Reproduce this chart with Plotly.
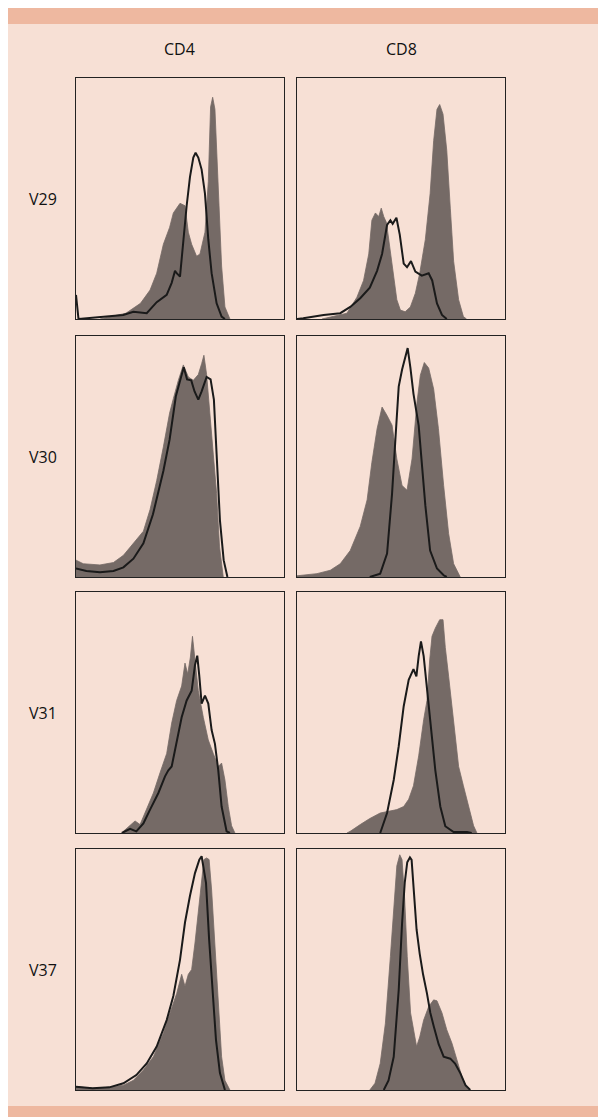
import plotly.graph_objects as go

# ---- data (x: fluorescence position 0-100, y: normalised count 0-100) ----
row_labels = ["V29", "V30", "V31", "V37"]
col_labels = ["CD4", "CD8"]

# V29 / CD4
v29_cd4_fill_x = [11.5, 24, 31, 35.6, 38.8, 42, 45, 46.8, 50, 52.4, 54, 55.6, 58, 59.6, 62, 63.6, 64.7, 65.7, 66.8, 68.4, 70, 71.6, 74]
v29_cd4_fill_y = [0, 2.4, 6.5, 12, 19, 31, 38, 44, 48, 47, 36, 31, 26, 27, 36, 57, 88, 92, 87, 57, 22, 5, 0]
v29_cd4_line_x = [0, 0.6, 1.2, 22.7, 27.6, 34, 38.8, 43.6, 46, 47.6, 48.4, 50, 51.6, 53.2, 54.8, 56.4, 57.5, 58.8, 60.4, 62, 63.6, 65.2, 67.6, 70, 71.6]
v29_cd4_line_y = [10, 3, 0, 1.7, 3, 2.4, 7, 10, 15, 20, 19, 17.6, 33, 47, 59, 67, 69, 67, 62, 52, 33, 19, 6.5, 1, 0]

# V29 / CD8
v29_cd8_fill_x = [12, 17.6, 24, 28.8, 32, 34.5, 36, 37.7, 39.3, 40.5, 41.7, 43, 44.9, 46.5, 48, 49.7, 52, 54.5, 56.9, 59, 61.7, 64, 65.7, 67.3, 68.6, 70.2, 72, 73.7, 75.3, 77.7, 80, 81.5]
v29_cd8_fill_y = [0, 1, 2.4, 9, 16, 27, 41, 44, 42.5, 46, 42.5, 40, 27, 17.6, 8, 3.7, 3, 5, 10.7, 19, 33, 52, 74, 87, 89, 85, 70, 46, 24, 8, 1, 0]
v29_cd8_line_x = [0, 3, 12.8, 20.8, 25.6, 30.4, 35, 38.5, 40.9, 43.3, 44.9, 46, 47.8, 49.4, 51.3, 52.9, 54.8, 56.9, 60, 63.3, 65, 67.3, 69.7, 72]
v29_cd8_line_y = [0, 0.3, 1.7, 2.4, 5, 8.6, 13, 20, 27, 39, 41, 39.5, 42, 35, 23, 21.5, 24, 19.7, 18, 19, 16, 6.5, 1.7, 0]

# V30 / CD4
v30_cd4_fill_x = [0, 3.5, 11.5, 18, 22.8, 27.6, 32.4, 35.6, 38.8, 42, 45, 46.8, 49.2, 51.6, 54, 56.4, 58.8, 60.4, 61.5, 62.8, 64.4, 66, 67.6, 69, 70.8]
v30_cd4_fill_y = [7, 5.5, 5, 6, 9, 14, 19, 28, 40, 54, 68, 74, 81.6, 88, 83, 81.6, 84, 88.5, 92, 84, 69, 51, 34.6, 12.5, 0]
v30_cd4_line_x = [0, 5, 11.5, 18, 22.8, 27.6, 32.4, 37, 42, 45, 48, 50.6, 51.8, 53.4, 55.4, 57, 58.8, 60.4, 62.8, 64.7, 66.3, 67.6, 69.2, 71, 72.8]
v30_cd4_line_y = [3.5, 2.5, 2, 2.5, 4, 7.6, 14, 26, 44, 57, 75, 83, 87, 82, 81.6, 77, 73.6, 77, 83, 82, 73.6, 51, 23.5, 7, 0]

# V30 / CD8
v30_cd8_fill_x = [0, 9.6, 16, 20.8, 25.6, 30.4, 33.7, 36, 38.5, 40.9, 43.3, 45.7, 48, 50.5, 52.9, 55.3, 57.7, 59.3, 61.2, 63.3, 65.7, 68, 70.5, 72.9, 75.3, 78.5]
v30_cd8_fill_y = [0.5, 1.4, 2.8, 5.5, 11, 21, 32, 47.6, 61.5, 70.5, 67, 63, 49, 38, 36, 49, 72.6, 83.7, 89, 86.7, 78, 61.5, 38, 18, 5.5, 0]
v30_cd8_line_x = [35, 40, 43.3, 45.7, 47.3, 48.9, 50.5, 52.1, 53.2, 54.5, 56, 58.5, 60, 61.7, 64, 67.3, 70.5, 72]
v30_cd8_line_y = [0, 1.4, 9.7, 34.6, 57, 79, 86, 91, 95, 87, 76, 62.8, 47.6, 29.7, 11, 3.5, 0.7, 0]

# V31 / CD4
v31_cd4_fill_x = [22.8, 26, 28.4, 30.8, 34, 37.2, 40.4, 43.6, 46, 48.4, 50.8, 52.4, 53.7, 55, 56, 57.2, 58.8, 61.2, 63.6, 66, 68.4, 70, 71.6, 73.2, 74.8, 76.4]
v31_cd4_fill_y = [0.7, 3, 5, 3.5, 9.7, 16.6, 25, 33, 45.6, 55, 61, 70.5, 66, 73, 81.6, 73, 59, 48, 38.6, 33, 27.6, 29, 22, 11, 3, 0]
v31_cd4_line_x = [22, 26, 29, 32.4, 35.6, 39.6, 42.8, 44.4, 46, 48.4, 50.8, 53.2, 55.6, 57.2, 58.3, 59.3, 60.4, 62, 63.6, 65.2, 66.8, 68.4, 70, 72.4, 74]
v31_cd4_line_y = [0, 1.7, 0.7, 4, 9.7, 16.6, 23.5, 26, 27.6, 38.6, 48, 55, 59, 69.6, 73.6, 65, 53.7, 57, 53.7, 42.7, 37, 26, 11, 0.7, 0]

# V31 / CD8
v31_cd8_fill_x = [24, 25.6, 30.4, 35, 40, 44.9, 48, 51.3, 53.7, 56, 58.5, 60.9, 62.5, 63.8, 64.9, 66.5, 68.6, 70.2, 71.3, 72.9, 75.3, 77.7, 80, 82.5, 84.9, 86.5]
v31_cd8_fill_y = [0, 0.7, 3.5, 6, 8.3, 9, 9.7, 11, 14, 19.6, 32, 47, 55, 71.8, 81.6, 85, 88.5, 88.5, 77, 65, 45.6, 27.6, 19.6, 11, 3, 0]
v31_cd8_line_x = [40, 43.3, 46.5, 48.9, 51.3, 53.7, 56, 57.4, 58.5, 59.6, 60.9, 62.5, 64.4, 66.5, 68.9, 71.3, 75.3, 81.7, 84]
v31_cd8_line_y = [0, 8.3, 22, 36, 52.6, 63.6, 68, 65, 73.4, 79.5, 73.4, 59.5, 41.5, 26, 11, 2.8, 0.4, 0.4, 0]

# V37 / CD4
v37_cd4_fill_x = [0, 8, 16, 22.8, 27.6, 32.4, 37.2, 42, 45.2, 48.4, 50.8, 52.4, 54, 55.6, 57.2, 58.8, 60.4, 61.5, 62.8, 64, 65.2, 66.8, 68.4, 70, 71.6, 74]
v37_cd4_fill_y = [1.4, 0.7, 1.1, 2, 4, 8.3, 13.8, 23.5, 32, 40, 48, 43, 48, 50, 61, 73.4, 84.5, 95.6, 96.3, 95.6, 83, 59.6, 32, 13.8, 4, 0]
v37_cd4_line_x = [0, 8, 16, 22.8, 29, 34, 38.8, 43.6, 46.8, 50, 52.4, 54.8, 57.2, 59.3, 60.4, 61.2, 62.5, 64, 65.7, 67.3, 69.2, 71.6]
v37_cd4_line_y = [1.4, 0.7, 1.1, 2.8, 6.2, 11, 18, 29, 39, 54, 69.5, 80.6, 90, 95.6, 97, 93, 86, 62.5, 40, 20.8, 7, 0]

# V37 / CD8
v37_cd8_fill_x = [35, 37.5, 40, 42.5, 44.9, 46.5, 48, 49.4, 50.5, 51.8, 53, 54.6, 56.2, 57.5, 59, 60.9, 63.3, 65.7, 67.3, 69.7, 72, 74.5, 76.9, 79.3, 81.7, 83]
v37_cd8_fill_y = [0, 2.8, 11, 27.7, 55.4, 76, 93, 97.6, 95.6, 78.7, 55.4, 32, 23.5, 18, 22, 29, 34.6, 37.4, 37, 32, 25, 19.4, 12.5, 5.5, 0.7, 0]
v37_cd8_line_x = [41.7, 44, 46.5, 48.9, 50.5, 51.8, 53, 54.3, 55.1, 56.2, 57.5, 59, 60.6, 62.5, 64.1, 65.7, 68.1, 70.5, 73.7, 76, 78.5, 81, 83.3]
v37_cd8_line_y = [0, 4, 13.8, 41.5, 69, 86, 94.5, 96.5, 95.5, 80.6, 66.5, 56.5, 48, 40, 32, 26.6, 19, 13.8, 13, 11, 7, 2, 0]

panels = [
    [(v29_cd4_fill_x, v29_cd4_fill_y, v29_cd4_line_x, v29_cd4_line_y),
     (v29_cd8_fill_x, v29_cd8_fill_y, v29_cd8_line_x, v29_cd8_line_y)],
    [(v30_cd4_fill_x, v30_cd4_fill_y, v30_cd4_line_x, v30_cd4_line_y),
     (v30_cd8_fill_x, v30_cd8_fill_y, v30_cd8_line_x, v30_cd8_line_y)],
    [(v31_cd4_fill_x, v31_cd4_fill_y, v31_cd4_line_x, v31_cd4_line_y),
     (v31_cd8_fill_x, v31_cd8_fill_y, v31_cd8_line_x, v31_cd8_line_y)],
    [(v37_cd4_fill_x, v37_cd4_fill_y, v37_cd4_line_x, v37_cd4_line_y),
     (v37_cd8_fill_x, v37_cd8_fill_y, v37_cd8_line_x, v37_cd8_line_y)],
]

# ---- layout geometry (figure pixels; the page adds an 8px body margin) ----
W, H = 598, 1109
BG = "#F7E0D5"
BAND = "#EEB8A0"
FILL = "#756A66"
FONT = "Open Sans, Noto Sans, sans-serif"

col_px = [(68, 276), (289, 497)]
row_px = [(70, 311), (328, 569), (584, 825), (841, 1082)]

fig = go.Figure()
layout_axes = {}
k = 0
for r in range(4):
    for c in range(2):
        k += 1
        fx, fy, lx, ly = panels[r][c]
        xa = "x" if k == 1 else f"x{k}"
        ya = "y" if k == 1 else f"y{k}"
        fig.add_trace(go.Scatter(x=fx, y=fy, mode="lines", fill="tozeroy",
                                 fillcolor=FILL, line=dict(width=0.8, color=FILL),
                                 xaxis=xa, yaxis=ya, showlegend=False, hoverinfo="skip"))
        fig.add_trace(go.Scatter(x=lx, y=ly, mode="lines",
                                 line=dict(width=2, color="#1a1a1a"),
                                 xaxis=xa, yaxis=ya, showlegend=False, hoverinfo="skip"))
        x0, x1 = col_px[c]
        y0, y1 = row_px[r]
        axcommon = dict(showgrid=False, zeroline=False, showticklabels=False, ticks="",
                        showline=True, mirror=True, linecolor="#222222", linewidth=1.3,
                        fixedrange=True)
        layout_axes["xaxis" if k == 1 else f"xaxis{k}"] = dict(
            domain=[x0 / W, x1 / W], range=[0, 100],
            anchor=ya, **axcommon)
        layout_axes["yaxis" if k == 1 else f"yaxis{k}"] = dict(
            domain=[(H - y1) / H, (H - y0) / H], range=[0, 100],
            anchor=xa, **axcommon)

annotations = []
for c, lab in enumerate(col_labels):
    annotations.append(dict(text=lab, x=(col_px[c][0] + col_px[c][1]) / 2 / W,
                            y=(H - 41) / H, xref="paper", yref="paper",
                            showarrow=False, xanchor="center", yanchor="middle",
                            font=dict(family=FONT, size=16, color="#111111")))
for r, lab in enumerate(row_labels):
    annotations.append(dict(text=lab, x=35 / W,
                            y=(H - (row_px[r][0] + row_px[r][1]) / 2) / H,
                            xref="paper", yref="paper",
                            showarrow=False, xanchor="center", yanchor="middle",
                            font=dict(family=FONT, size=16, color="#111111")))

shapes = [
    dict(type="rect", xref="paper", yref="paper", x0=0, x1=1, y0=(H - 16) / H, y1=1,
         fillcolor=BAND, line=dict(width=0), layer="below"),
    dict(type="rect", xref="paper", yref="paper", x0=0, x1=1, y0=0, y1=(H - 1098) / H,
         fillcolor=BAND, line=dict(width=0), layer="below"),
]

fig.update_layout(
    width=W, height=H, margin=dict(l=0, r=0, t=0, b=0),
    paper_bgcolor=BG, plot_bgcolor=BG,
    annotations=annotations, shapes=shapes, showlegend=False,
    **layout_axes,
)

fig.write_html("out.html", config={"displayModeBar": False})
